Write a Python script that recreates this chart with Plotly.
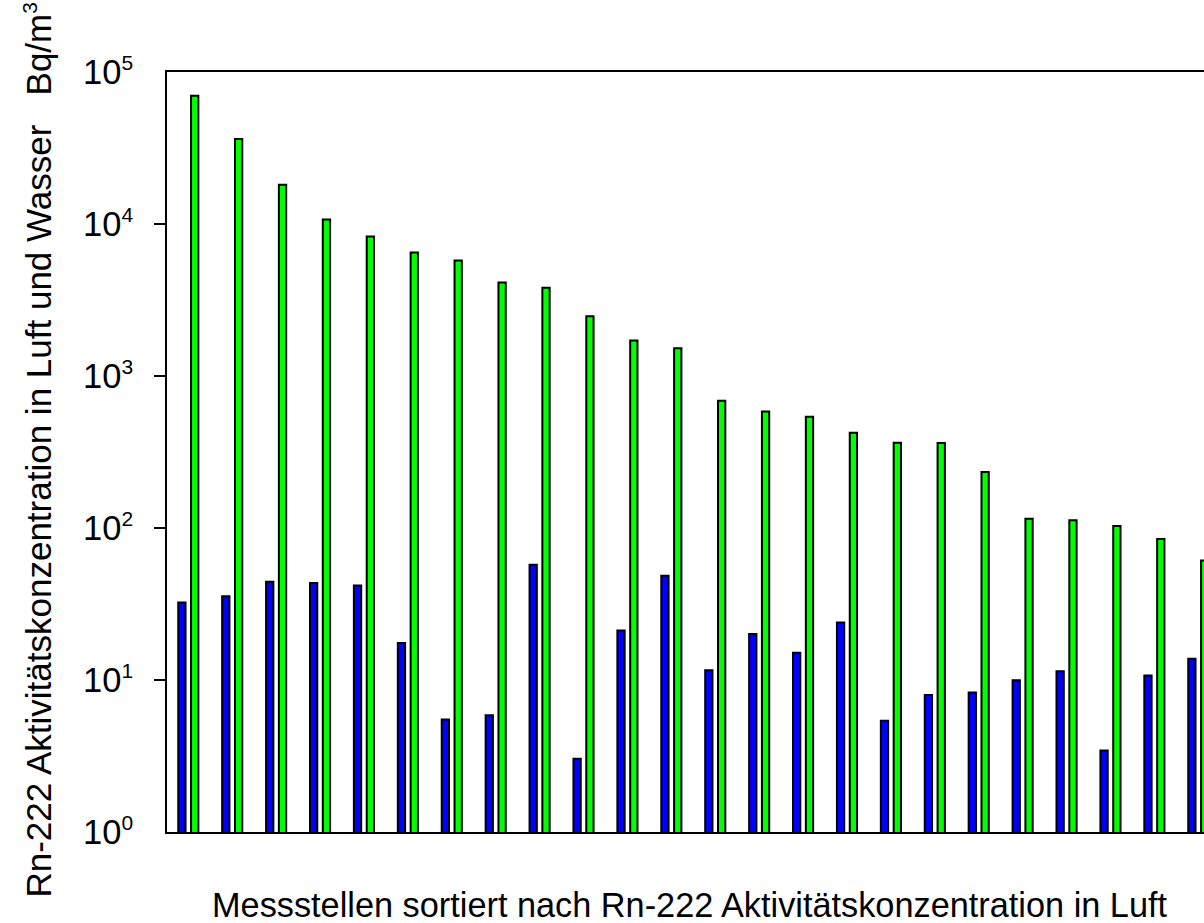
import plotly.graph_objects as go

# ---- data ----
stations = list(range(1, 25))
rn_air = [32.4, 35.5, 44.3, 43.4, 41.9, 17.5, 5.50, 5.87, 57.3, 3.03, 21.2, 48.5,
          11.6, 20.1, 15.1, 23.9, 5.39, 7.98, 8.26, 9.95, 11.4, 3.44, 10.7, 13.8]
rn_water = [69800, 36300, 18100, 10700, 8280, 6500, 5760, 4130, 3810, 2470, 1710, 1520,
            687, 585, 539, 423, 364, 362, 234, 115, 112.5, 103, 84.8, 61.1]
tick_vals = [1, 10, 100, 1000, 10000, 100000]
tick_exps = ["0", "1", "2", "3", "4", "5"]
inner_ticks = [10, 100, 1000, 10000]
y_title = ("Rn-222 Aktivitätskonzentration in Luft und Wasser\u00a0\u00a0\u00a0Bq/m"
           "<sup><span style='font-size:21px'>3</span></sup>")
x_title = "Messstellen sortiert nach Rn-222 Aktivitätskonzentration in Luft"

tick_text = ["10<sup><span style='font-size:21px'>%s</span></sup>" % e for e in tick_exps]

FONT = "Arial, 'Liberation Sans', sans-serif"
bw = 0.166

fig = go.Figure()
fig.add_trace(go.Bar(x=stations, y=rn_air, width=bw, offset=-0.229,
                     marker=dict(color="#0000FF", line=dict(color="black", width=2)),
                     name="Luft"))
fig.add_trace(go.Bar(x=stations, y=rn_water, width=bw, offset=0.063,
                     marker=dict(color="#00FF00", line=dict(color="black", width=2)),
                     name="Wasser"))

fig.update_layout(
    width=1204, height=923,
    margin=dict(l=166.5, r=0, t=72, b=91, pad=0),
    paper_bgcolor="white", plot_bgcolor="white",
    barmode="overlay", showlegend=False,
    font=dict(family=FONT, color="black", size=34),
    xaxis=dict(range=[0.515, 24.13], showticklabels=False, ticks="",
               showgrid=False, zeroline=False, showline=True, linecolor="black",
               linewidth=2, mirror=True),
    yaxis=dict(type="log", range=[0, 5], tickvals=tick_vals, ticktext=tick_text,
               ticks="outside", ticklen=11, tickwidth=2, tickcolor="rgba(0,0,0,0)",
               ticklabelstandoff=14,
               minor=dict(tickvals=inner_ticks, ticks="outside", ticklen=11,
                          tickwidth=2, tickcolor="black", showgrid=False),
               tickfont=dict(size=34.5, family=FONT, color="black"),
               showgrid=False, zeroline=False, showline=True, linecolor="black",
               linewidth=2),
    annotations=[
        dict(text=y_title, xref="paper", yref="paper", x=-0.1248, y=0.5026,
             xanchor="center", yanchor="middle", textangle=-90, showarrow=False,
             font=dict(size=35, family=FONT, color="black")),
        dict(text=x_title, xref="paper", yref="paper", x=0.5046, y=-0.068,
             xanchor="center", yanchor="top", showarrow=False,
             font=dict(size=34.3, family=FONT, color="black")),
    ],
)

fig.write_html("out.html")
